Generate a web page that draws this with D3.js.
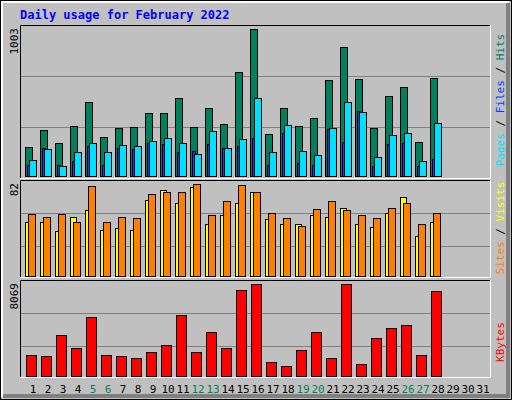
<!DOCTYPE html>
<html><head><meta charset="utf-8">
<script src="https://cdn.jsdelivr.net/npm/d3@7"></script>
<style>body{margin:0;background:#fff}</style>
</head><body>
<script>
var days = d3.range(1, 32)
var weekend = [5, 6, 12, 13, 19, 20, 26, 27]
var hits = [201,316,228,343,507,269,330,337,432,432,534,337,466,357,711,1003,289,466,343,398,656,881,663,330,547,609,235,670]
var files = [112,187,71,167,228,167,214,207,241,262,228,153,309,194,255,534,167,350,173,146,330,507,439,133,282,296,99,364]
var pages = [78,194,78,99,207,78,194,187,228,221,167,173,221,194,207,262,78,296,92,78,323,235,445,71,221,228,65,119]
var visits = [48,48,40,53,59,41,43,41,68,77,65,79,46,54,65,75,51,46,46,54,53,61,46,44,56,70,36,48]
var sites = [55,53,55,48,80,48,53,52,73,75,75,82,54,67,81,75,56,52,45,60,67,59,54,52,61,65,46,56]
var kbytes = [1822,1734,3582,2438,5166,1822,1734,1558,2086,2702,5342,2086,3846,2438,7542,8069,1206,854,2262,3846,1558,8069,1030,3318,4198,4462,1822,7454]

var svg = d3.select("body").append("svg").attr("width", 512).attr("height", 400)
    .style("font-family", "'DejaVu Sans Mono', monospace")

// frame with bevel
svg.append("rect").attr("x", 0.5).attr("y", 0.5).attr("width", 511).attr("height", 399).attr("fill", "#c0c0c0").attr("stroke", "#000")
svg.append("path").attr("d", "M2,397V2H509").attr("fill", "none").attr("stroke", "#fff").attr("stroke-width", 2)
svg.append("path").attr("d", "M3,396H508V3").attr("fill", "none").attr("stroke", "#808080").attr("stroke-width", 4)

svg.append("text").attr("x", 20).attr("y", 19).text("Daily usage for February 2022")
    .attr("fill", "#0000ff").attr("font-weight", "bold").attr("font-size", 12)

var x = d3.scaleBand().domain(days).range([25, 490]).paddingInner(0)
// x(d) gives slot start, slot width 15

function panel(top, bottom, max, grids) {
    var g = svg.append("g")
    g.append("rect").attr("x", 20).attr("y", top).attr("width", 471).attr("height", bottom - top).attr("fill", "#c0c0c0")
    g.append("path").attr("d", `M20.5,${bottom}V${top + 0.5}H491`).attr("fill", "none").attr("stroke", "#000")
    g.append("path").attr("d", `M20,${bottom + 0.5}H490.5V${top}`).attr("fill", "none").attr("stroke", "#fff")
    grids.forEach(function(gy) {
        g.append("line").attr("x1", 21).attr("x2", 490).attr("y1", gy + 0.5).attr("y2", gy + 0.5).attr("stroke", "#808080")
    })
    g.append("text").attr("transform", `translate(18,${top + 3}) rotate(-90)`).attr("text-anchor", "end")
        .attr("font-size", 11).text(max)
    return g
}

function bars(g, data, y, dx, w, color) {
    g.selectAll(null).data(data).enter().append("rect")
        .attr("x", (d, i) => x(i + 1) + dx + 0.5).attr("y", d => Math.round(y(d)) + 0.5)
        .attr("width", w).attr("height", d => y.range()[0] - Math.round(y(d)))
        .attr("fill", color).attr("stroke", "#000")
}

function legend(g, cy, parts) {
    var t = g.append("text").attr("transform", `translate(504,${cy}) rotate(-90)`).attr("text-anchor", "middle")
        .attr("font-size", 11)
    parts.forEach(function(p) { t.append("tspan").attr("fill", p[1]).text(p[0]) })
}

// top panel
var g1 = panel(25, 178, 1003, [76, 127])
var y1 = d3.scaleLinear().domain([0, 1003]).range([176, 29])
bars(g1, hits, y1, 0, 7, "#00805c")
bars(g1, pages, y1, 2, 3, "#0040ff")
bars(g1, files, y1, 4, 7, "#00e0ff")
legend(g1, 100, [["Pages", "#00e0ff"], [" / ", "#000"], ["Files", "#0040ff"], [" / ", "#000"], ["Hits", "#00805c"]])

// middle panel
var g2 = panel(180, 277, 82, [213, 246])
var y2 = d3.scaleLinear().domain([0, 82]).range([276, 184])
bars(g2, visits, y2, 0, 6, "#ffff00")
bars(g2, sites, y2, 3, 7, "#ff8000")
legend(g2, 228, [["Sites", "#ff8000"], [" / ", "#000"], ["Visits", "#ffff00"]])

// bottom panel
var g3 = panel(280, 377, 8069, [313, 346])
var y3 = d3.scaleLinear().domain([0, 8069]).range([376, 284])
bars(g3, kbytes, y3, 1, 10, "#ff0000")
legend(g3, 342, [["KBytes", "#ff0000"]])

// day labels
svg.selectAll(null).data(days).enter().append("text")
    .attr("x", d => x(d) + 8).attr("y", 393).attr("text-anchor", "middle").attr("font-size", 11)
    .attr("fill", d => weekend.includes(d) ? "#00805c" : "#000").text(d => d)
</script>
</body></html>
